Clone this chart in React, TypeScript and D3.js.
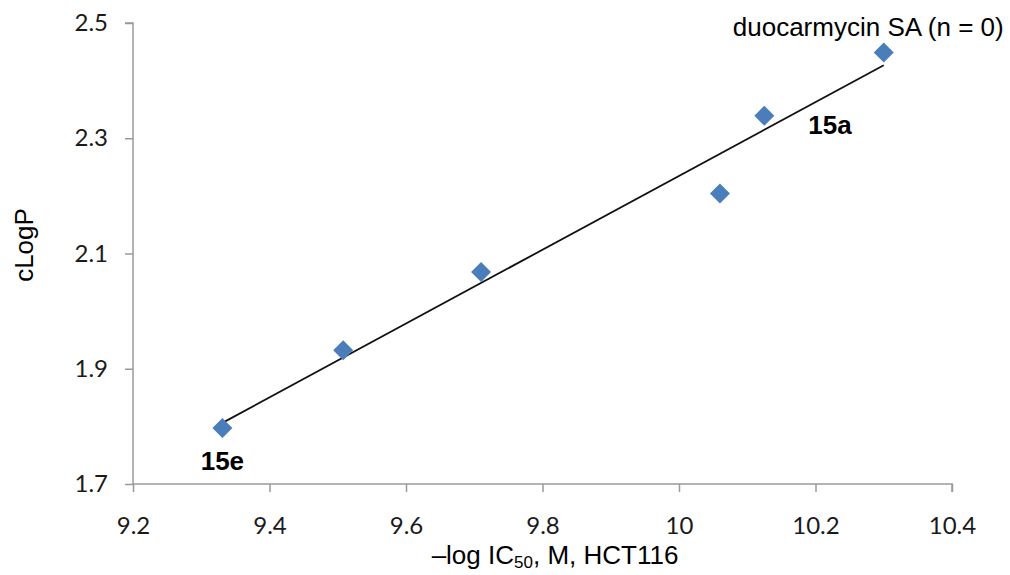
import React, { useEffect, useRef } from 'react';
import * as d3 from 'd3';

// values
const potency = [9.331, 9.508, 9.71, 10.06, 10.125, 10.3];
const clogp = [1.797, 1.932, 2.068, 2.204, 2.339, 2.449];
const xTicks = [9.2, 9.4, 9.6, 9.8, 10, 10.2, 10.4];
const yTicks = [1.7, 1.9, 2.1, 2.3, 2.5];
const pointLabels = [
  { i: 5, text: 'duocarmycin SA (n = 0)', bold: false },
  { i: 4, text: '15a', bold: true },
  { i: 0, text: '15e', bold: true },
];

const App = () => {
  const svgRef = useRef(null);

  useEffect(() => {
    const width = 1010;
    const height = 575;
    const margin = { top: 23, right: 58, bottom: 91, left: 133 };
    const axisColor = '#9a9a9a';
    const tickFont = 'Lato, "Open Sans", sans-serif';
    const textFont = '"Liberation Sans", Arial, sans-serif';

    const svg = d3.select(svgRef.current).attr('width', width).attr('height', height);
    svg.selectAll('*').remove();

    const x = d3.scaleLinear().domain([9.2, 10.4]).range([margin.left, width - margin.right]);
    const y = d3.scaleLinear().domain([1.7, 2.5]).range([height - margin.bottom, margin.top]);

    // y axis
    const yAxis = svg.append('g').attr('transform', `translate(${margin.left},0)`)
      .call(d3.axisLeft(y).tickValues(yTicks).tickSize(8).tickPadding(17).tickFormat(d3.format('.1f')));
    // x axis
    const xAxis = svg.append('g').attr('transform', `translate(0,${height - margin.bottom})`)
      .call(d3.axisBottom(x).tickValues(xTicks).tickSize(8).tickPadding(25).tickFormat((d) => `${+d}`));

    [xAxis, yAxis].forEach((g) => {
      g.select('.domain').attr('stroke', axisColor).attr('stroke-width', 1.5);
      g.selectAll('.tick line').attr('stroke', axisColor).attr('stroke-width', 1.5);
      g.selectAll('.tick text').attr('fill', '#1a1a1a').style('font-family', tickFont).style('font-size', '24px');
    });
    // no outer tick hooks beyond the plot
    yAxis.select('.domain').attr('d', `M-8,${y(2.5)}H0V${y(1.7)}`);
    xAxis.select('.domain').attr('d', `M${x(9.2)},0H${x(10.4)}V8`);

    // linear trendline (least squares of the points)
    const mx = d3.mean(potency);
    const my = d3.mean(clogp);
    const sxy = d3.sum(potency, (v, i) => (v - mx) * (clogp[i] - my));
    const sxx = d3.sum(potency, (v) => (v - mx) * (v - mx));
    const slope = sxy / sxx;
    const icpt = my - slope * mx;
    const x0 = d3.min(potency);
    const x1 = d3.max(potency);
    svg.append('line')
      .attr('x1', x(x0)).attr('y1', y(icpt + slope * x0))
      .attr('x2', x(x1)).attr('y2', y(icpt + slope * x1))
      .attr('stroke', '#111').attr('stroke-width', 1.8);

    // diamond markers
    const diamond = d3.symbol(d3.symbolSquare, 200);
    svg.selectAll('path.pt')
      .data(potency)
      .join('path')
      .attr('class', 'pt')
      .attr('d', diamond)
      .attr('transform', (d, i) => `translate(${x(d)},${y(clogp[i])}) rotate(45)`)
      .attr('fill', '#4a7ebb');

    // point labels
    const offsets = [
      { dx: 120, dy: -16, anchor: 'end' },
      { dx: 44, dy: 18, anchor: 'start' },
      { dx: 0, dy: 42, anchor: 'middle' },
    ];
    pointLabels.forEach((lb, k) => {
      const o = offsets[k];
      svg.append('text')
        .attr('x', x(potency[lb.i]) + o.dx)
        .attr('y', y(clogp[lb.i]) + o.dy)
        .attr('text-anchor', o.anchor)
        .style('font-family', textFont)
        .style('font-size', lb.bold ? '26px' : '26px')
        .style('font-weight', lb.bold ? 'bold' : 'normal')
        .attr('fill', '#000')
        .text(lb.text);
    });

    // axis titles
    const xt = svg.append('text')
      .attr('x', 555).attr('y', 564)
      .attr('text-anchor', 'middle')
      .style('font-family', textFont).style('font-size', '26px')
      .attr('fill', '#000');
    xt.append('tspan').text('\u2013log IC');
    xt.append('tspan').attr('font-size', '17px').attr('dy', 4).text('50');
    xt.append('tspan').attr('dy', -4).text(', M, HCT116');

    svg.append('text')
      .attr('transform', `translate(33,245) rotate(-90)`)
      .attr('text-anchor', 'middle')
      .style('font-family', textFont).style('font-size', '26px')
      .attr('fill', '#000')
      .text('cLogP');
  }, []);

  return (
    <div style={{ position: 'absolute', left: 0, top: 0, background: '#fff' }}>
      <svg ref={svgRef} style={{ display: 'block' }}></svg>
    </div>
  );
};

export default App;
